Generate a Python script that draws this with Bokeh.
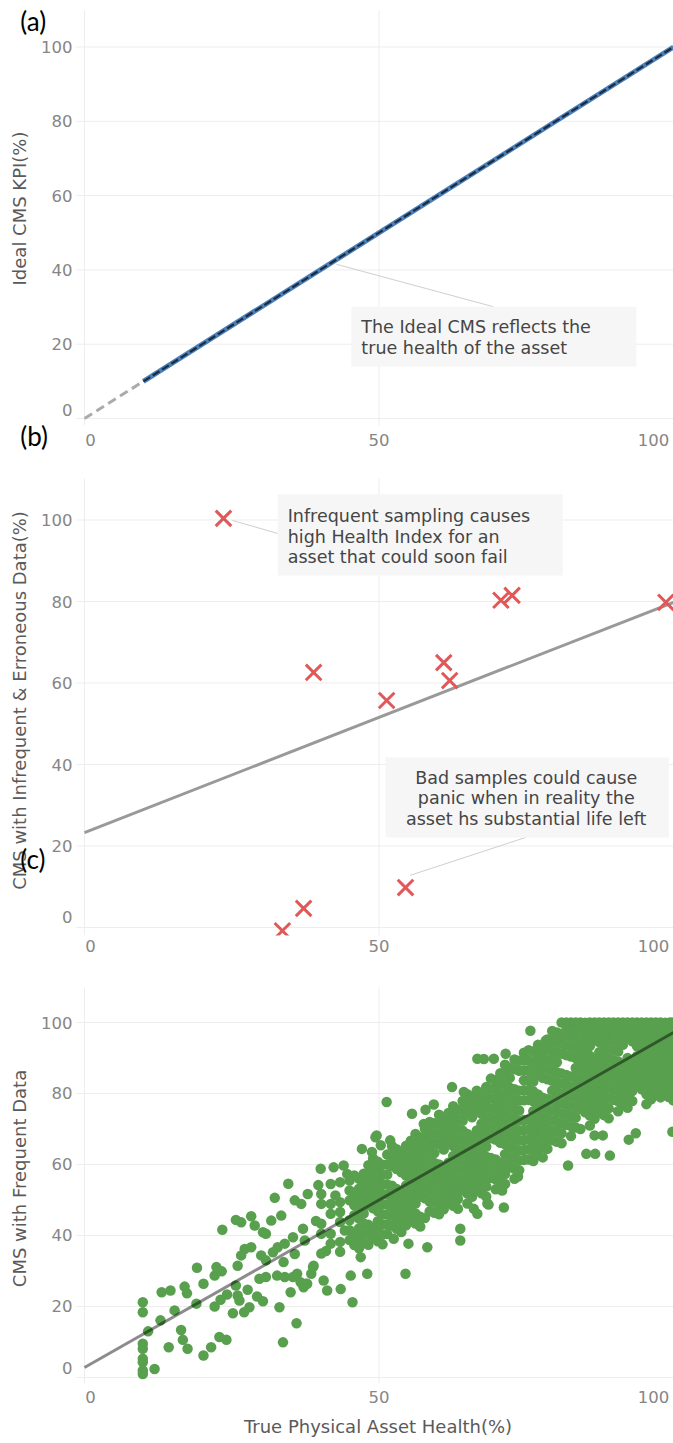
from bokeh.plotting import figure
from bokeh.layouts import column
from bokeh.models import Range1d, FixedTicker, BoxAnnotation, Label, LinearAxis
from bokeh.embed import file_html
from bokeh.resources import INLINE

# ---------------- data ----------------
x_ticks = [0, 50, 100]
y_ticks = [0, 20, 40, 60, 80, 100]

# (a) ideal CMS
ideal_x = [10, 100]
ideal_y = [10, 100]
ideal_ext_x = [0, 10]
ideal_ext_y = [0, 10]

# (b) infrequent & erroneous samples
infreq_x = [23.6, 38.9, 51.3, 61.0, 62.0, 70.7, 72.6, 98.7, 54.5, 37.2, 33.6]
infreq_y = [100.4, 62.6, 55.7, 65.0, 60.6, 80.3, 81.5, 79.8, 9.8, 4.7, -0.8]
infreq_fit_x = [0, 100]
infreq_fit_y = [23.3, 79.8]

# (c) frequent samples: sparse part (true health, CMS value)
freq_left = [
    (9.9, 21.2), (9.9, 18.4), (9.9, 9.5), (9.9, 8.1), (9.9, 5.3), (9.9, 4.3), (9.9, 2.0), (9.9, 1.0),
    (11.9, 2.4), (10.8, 13.0), (12.9, 16.1), (13.1, 24.0), (14.6, 24.5), (14.3, 8.5), (15.3, 18.9),
    (16.4, 13.4), (16.7, 10.6), (17.5, 8.1), (17.0, 25.6), (17.4, 23.7), (19.0, 20.8), (19.1, 30.9),
    (20.2, 26.4), (20.2, 6.2), (21.5, 8.5), (22.1, 20.0), (23.1, 21.9), (24.2, 23.4), (22.1, 28.7),
    (22.4, 31.1), (23.3, 29.9), (22.9, 11.4), (24.1, 10.6), (23.4, 41.6), (25.2, 18.1), (25.7, 44.4),
    (26.6, 43.7), (25.7, 25.9), (26.0, 23.1), (26.3, 21.7), (26.0, 31.5), (26.6, 34.4), (27.2, 36.2),
    (28.3, 36.7), (27.1, 18.4), (28.0, 19.8), (27.7, 24.7), (28.3, 45.4), (28.9, 42.8), (29.3, 22.8),
    (30.3, 21.5), (29.7, 27.8), (30.8, 28.3), (30.0, 34.4), (30.8, 33.0), (30.3, 40.9), (30.8, 40.5),
    (31.7, 44.2), (33.4, 45.6), (32.3, 50.6), (32.0, 35.3), (32.8, 36.7), (34.0, 37.7), (32.7, 28.7),
    (34.0, 28.3), (35.4, 28.3), (36.7, 26.8), (33.1, 19.8), (33.7, 9.9), (33.8, 32.5), (34.6, 54.6),
    (35.0, 24.0), (35.4, 39.5), (35.7, 34.8), (35.7, 49.9), (36.8, 48.9), (37.9, 51.7), (36.0, 15.3),
    (37.1, 41.9), (37.4, 38.6), (37.6, 26.4), (38.5, 29.2), (38.8, 31.1),
]
# (c) dense band, read column by column
core_col_x = [40.2, 41.8, 43.4, 45.0, 45.8, 46.6, 47.4, 48.2, 49.0, 49.8,
              50.6, 51.4, 52.2, 53.0, 53.8, 54.6, 55.4, 56.2, 57.0, 57.8, 58.6, 59.4, 60.2, 61.0,
              61.8, 62.6, 63.4, 64.2, 65.0, 65.8, 66.6, 67.4, 68.2, 69.0, 69.8, 70.6, 71.4, 72.2,
              73.0, 73.8, 74.6, 75.4, 76.2, 77.0, 77.8, 78.6, 79.4, 80.2, 81.0, 81.8, 82.6, 83.4,
              84.2, 85.0, 85.8, 86.6, 87.4, 88.2, 89.0, 89.8, 90.6, 91.4, 92.2, 93.0, 93.8, 94.6,
              95.4, 96.2, 97.0, 97.8, 98.6, 99.4, 100.0]
core_col_y = [
    [34.9, 40.5, 43.3, 48.9, 51.7],
    [37.7, 40.5, 46.1, 48.9, 54.5],
    [35.4, 38.2, 43.8, 46.6, 49.4, 55.0],
    [38.7, 41.5, 44.3, 49.9, 52.7, 55.5],
    [37.3, 40.1, 45.7, 48.5, 51.3, 56.9],
    [36.4, 39.2, 42.0, 44.8, 47.6, 50.4, 53.2, 56.0],
    [37.8, 40.6, 43.4, 46.2, 49.0, 51.8, 54.6, 57.4],
    [37.4, 40.2, 43.0, 48.6, 51.4, 54.2, 57.0, 59.8],
    [39.3, 42.1, 47.7, 50.5, 53.3, 56.1, 58.9, 61.7],
    [38.4, 41.2, 44.0, 46.8, 49.6, 52.4, 55.2, 58.0, 60.8],
    [37.5, 40.3, 43.1, 45.9, 48.7, 51.5, 54.3, 57.1, 59.9],
    [40.4, 43.2, 46.0, 48.8, 51.6, 54.4, 57.2, 60.0, 62.8],
    [42.8, 45.6, 48.4, 51.2, 54.0, 59.6, 62.4, 65.2],
    [41.9, 44.7, 47.5, 50.3, 53.1, 58.7, 61.5, 64.3],
    [41.0, 43.8, 46.6, 49.4, 52.2, 57.8, 60.6, 63.4],
    [42.9, 45.7, 48.5, 51.3, 54.1, 56.9, 59.7, 62.5, 65.3],
    [44.3, 47.1, 49.9, 52.7, 55.5, 58.3, 61.1, 63.9, 66.7],
    [43.4, 46.2, 49.0, 51.8, 54.6, 57.4, 60.2, 63.0, 65.8, 68.6],
    [42.5, 45.3, 50.9, 53.7, 56.5, 59.3, 62.1, 64.9, 67.7],
    [44.9, 50.5, 53.3, 56.1, 58.9, 61.7, 64.5, 67.3, 70.1],
    [46.8, 49.6, 52.4, 55.2, 58.0, 60.8, 63.6, 66.4, 69.2, 72.0],
    [46.4, 49.2, 52.0, 54.8, 57.6, 60.4, 63.2, 66.0, 68.8, 71.6],
    [46.0, 48.8, 51.6, 54.4, 57.2, 60.0, 65.6, 68.4, 71.2, 74.0],
    [47.4, 50.2, 53.0, 55.8, 58.6, 64.2, 67.0, 69.8, 72.6],
    [49.3, 52.1, 54.9, 57.7, 60.5, 66.1, 68.9, 71.7, 74.5],
    [48.4, 51.2, 54.0, 56.8, 59.6, 62.4, 65.2, 68.0, 70.8, 73.6, 76.4],
    [47.5, 50.3, 53.1, 55.9, 58.7, 61.5, 64.3, 67.1, 69.9, 72.7, 75.5],
    [52.7, 55.5, 58.3, 61.1, 63.9, 66.7, 69.5, 72.3, 75.1, 77.9],
    [49.0, 51.8, 54.6, 57.4, 60.2, 63.0, 65.8, 68.6, 74.2, 77.0, 79.8],
    [50.9, 53.7, 56.5, 59.3, 62.1, 64.9, 67.7, 73.3, 76.1, 78.9],
    [52.8, 55.6, 58.4, 61.2, 64.0, 66.8, 69.6, 75.2, 78.0, 80.8],
    [51.9, 54.7, 57.5, 60.3, 63.1, 65.9, 68.7, 71.5, 74.3, 77.1, 79.9],
    [51.0, 53.8, 56.6, 59.4, 62.2, 65.0, 67.8, 70.6, 73.4, 76.2, 79.0, 81.8],
    [56.2, 59.0, 61.8, 67.4, 70.2, 73.0, 75.8, 78.6, 81.4, 84.2],
    [53.0, 55.8, 58.6, 61.4, 67.0, 69.8, 72.6, 75.4, 78.2, 81.0, 83.8],
    [54.9, 57.7, 60.5, 66.1, 68.9, 71.7, 74.5, 77.3, 80.1, 82.9, 85.7],
    [54.5, 57.3, 60.1, 62.9, 65.7, 68.5, 71.3, 74.1, 76.9, 79.7, 82.5, 85.3, 88.1],
    [59.2, 62.0, 64.8, 67.6, 70.4, 73.2, 76.0, 78.8, 81.6, 84.4, 87.2],
    [56.0, 58.8, 61.6, 64.4, 67.2, 70.0, 72.8, 75.6, 78.4, 81.2, 86.8, 89.6],
    [58.4, 61.2, 64.0, 66.8, 69.6, 72.4, 75.2, 78.0, 80.8, 86.4, 89.2],
    [61.3, 64.1, 66.9, 69.7, 72.5, 78.1, 80.9, 83.7, 86.5, 89.3, 91.5],
    [61.4, 64.2, 67.0, 69.8, 72.6, 78.2, 81.0, 83.8, 86.6, 89.4, 92.2],
    [61.0, 63.8, 66.6, 69.4, 72.2, 75.0, 77.8, 80.6, 83.4, 86.2, 89.0, 91.8],
    [62.9, 65.7, 68.5, 71.3, 74.1, 76.9, 79.7, 85.3, 88.1, 90.9, 93.7],
    [62.0, 64.8, 67.6, 70.4, 73.2, 76.0, 78.8, 84.4, 87.2, 90.0, 92.8],
    [64.4, 67.2, 70.0, 72.8, 75.6, 78.4, 84.0, 86.8, 89.6, 92.4, 95.2],
    [66.8, 69.6, 72.4, 75.2, 78.0, 80.8, 83.6, 86.4, 89.2, 92.0, 94.8, 97.6],
    [66.4, 69.2, 72.0, 74.8, 77.6, 80.4, 83.2, 86.0, 88.8, 91.6, 94.4, 97.2],
    [66.0, 68.8, 71.6, 74.4, 77.2, 80.0, 82.8, 85.6, 91.2, 94.0, 96.8, 100],
    [71.2, 74.0, 76.8, 79.6, 82.4, 85.2, 90.8, 93.6, 96.4, 99.0, 100],
    [68.0, 70.8, 73.6, 76.4, 79.2, 82.0, 84.8, 90.4, 93.2, 96.0, 98.8, 100],
    [70.4, 73.2, 76.0, 78.8, 81.6, 84.4, 87.2, 90.0, 92.8, 95.6, 98.4, 100],
    [70.0, 75.6, 78.4, 81.2, 84.0, 86.8, 89.6, 92.4, 95.2, 98.0, 100],
    [74.7, 77.5, 80.3, 83.1, 85.9, 88.7, 91.5, 94.3, 97.1, 99.9],
    [71.0, 73.8, 76.6, 79.4, 82.2, 85.0, 87.8, 90.6, 93.4, 96.2, 99.0, 100],
    [72.9, 75.7, 78.5, 81.3, 84.1, 86.9, 89.7, 95.3, 98.1, 100],
    [74.8, 77.6, 80.4, 83.2, 86.0, 88.8, 91.6, 94.4, 97.2, 100],
    [73.9, 76.7, 79.5, 82.3, 85.1, 87.9, 90.7, 93.5, 96.3, 99.1, 100],
    [73.0, 75.8, 78.6, 81.4, 84.2, 87.0, 89.8, 92.6, 95.4, 98.2, 100],
    [78.2, 81.0, 83.8, 86.6, 89.4, 92.2, 95.0, 97.8, 100],
    [75.0, 77.8, 80.6, 83.4, 86.2, 89.0, 91.8, 94.6, 97.4, 100],
    [76.9, 79.7, 82.5, 85.3, 88.1, 93.7, 96.5, 99.3, 100],
    [76.0, 78.8, 81.6, 84.4, 87.2, 90.0, 95.6, 98.4, 100],
    [77.9, 80.7, 83.5, 86.3, 89.1, 94.7, 97.5, 100],
    [82.1, 84.9, 87.7, 90.5, 93.3, 96.1, 98.9, 100],
    [81.2, 84.0, 86.8, 89.6, 92.4, 95.2, 98.0, 100],
    [77.0, 79.8, 82.6, 85.4, 88.2, 91.0, 93.8, 96.6, 100],
    [78.4, 81.2, 84.0, 86.8, 89.6, 92.4, 95.2, 98.0, 100],
    [79.8, 82.6, 85.4, 88.2, 91.0, 93.8, 96.6, 99.4, 100],
    [78.9, 81.7, 84.5, 87.3, 90.1, 92.9, 95.7, 98.5, 100],
    [80.3, 83.1, 85.9, 88.7, 91.5, 94.3, 97.1, 99.9],
    [79.4, 82.2, 85.0, 87.8, 90.6, 93.4, 96.2, 99.0, 100],
    [78.0, 80.8, 83.6, 86.4, 89.2, 92.0, 94.8, 97.6, 100],
]
freq_outliers = [
    (36.1, 29.2), (37.2, 25.4), (40.6, 27.3), (41.2, 24.5), (43.5, 24.9), (45.5, 21.2), (48.0, 29.2),
    (54.5, 29.2), (52.5, 39.1), (55.0, 37.7), (58.2, 36.7), (63.8, 41.9), (63.8, 38.6), (66.7, 46.1),
    (68.4, 49.0), (46.9, 33.9), (45.2, 28.7), (38.9, 31.5), (37.8, 26.4), (66.1, 47.5), (68.6, 48.7),
    (71.2, 47.9), (70.9, 52.7), (73.6, 56.6), (71.2, 58.8), (82.1, 59.7), (85.2, 63.0), (86.7, 63.0),
    (89.2, 62.5), (86.6, 68.2), (88.0, 68.2), (92.4, 67.0), (93.6, 68.8), (99.8, 69.2), (99.2, 79.0),
    (96.1, 79.9), (96.9, 82.7), (97.8, 85.1),
    (40.1, 58.8), (42.3, 59.2), (44.0, 59.7), (47.1, 64.4), (48.8, 63.5), (50.3, 65.4), (49.4, 67.7),
    (51.9, 66.8), (49.6, 68.2), (51.3, 77.6), (55.6, 74.3), (57.9, 75.4), (59.3, 76.9), (57.6, 71.4),
    (62.4, 81.8), (64.4, 80.4), (66.7, 89.8), (69.5, 89.8), (71.5, 91.2), (67.8, 89.7), (75.7, 97.7),
    (78.3, 94.9), (80.0, 95.9),
    (39.3, 44.1), (39.7, 54.2), (41.0, 35.6), (42.6, 51.3), (44.2, 41.4), (44.6, 57.3),
]
freq_fit_x = [0, 100]
freq_fit_y = [2.8, 97.2]

# ---------------- styling ----------------
FONT = "DejaVu Sans"
TICK_COLOR = "#868686"
TITLE_COLOR = "#5a5a5a"
GRID_COLOR = "#ededed"
ANN_FILL = "#f6f6f6"
ANN_TEXT = "#454545"
LINK_COLOR = "#cfcfcf"
W = 673
X_LO, X_HI = -1.36, 100.0          # plot-area extent in x
X_START, X_END = -14.26, 100.0      # canvas extent in x


def make_fig(height, y_start, y_end, y_lo, y_hi, ylabel, zero_label_pos, x_standoff, ybounds,
             xlabel=None, xlabel_standoff=9):
    p = figure(width=W, height=height, x_range=Range1d(X_START, X_END), y_range=Range1d(y_start, y_end),
               output_backend="svg", toolbar_location=None, x_axis_location=None, y_axis_location=None,
               min_border=0, min_border_left=0, min_border_right=0, min_border_top=0, min_border_bottom=0)
    p.outline_line_color = None
    p.grid.visible = False
    p.segment(x0=X_LO, x1=X_HI, y0=y_ticks, y1=y_ticks, line_color=GRID_COLOR, line_width=1, level="underlay")
    p.segment(x0=x_ticks, x1=x_ticks, y0=y_lo, y1=y_hi, line_color=GRID_COLOR, line_width=1, level="underlay")

    xax = LinearAxis(fixed_location=y_lo, bounds=(0.9, 98.76),
                     ticker=FixedTicker(ticks=[1.0, 50, 96.6]),
                     major_label_overrides={1.0: "0", 50: "50", 96.6: "100"})
    yt = [zero_label_pos] + y_ticks[1:]
    yax = LinearAxis(fixed_location=X_LO, bounds=ybounds, ticker=FixedTicker(ticks=yt),
                     major_label_overrides={zero_label_pos: "0"})
    for ax in (xax, yax):
        ax.axis_line_color = None
        ax.major_tick_line_color = None
        ax.minor_tick_line_color = None
        ax.major_tick_out = 0
        ax.major_tick_in = 0
        ax.major_label_text_font = FONT
        ax.major_label_text_font_size = "16.5px"
        ax.major_label_text_color = TICK_COLOR
        ax.axis_label_text_font = FONT
        ax.axis_label_text_font_size = "18px"
        ax.axis_label_text_font_style = "normal"
        ax.axis_label_text_color = TITLE_COLOR
    yax.major_label_standoff = 4
    yax.axis_label_standoff = 8
    yax.axis_label = ylabel
    xax.major_label_standoff = x_standoff
    if xlabel:
        xax.axis_label = xlabel
        xax.axis_label_standoff = xlabel_standoff
    p.add_layout(xax, "below")
    p.add_layout(yax, "left")
    return p


def mask_below(p, y_start, y_lo):
    # emulate clipping of marks at the bottom of the plot area
    p.quad(left=X_START, right=X_END, bottom=y_start, top=y_lo, fill_color="white", line_color=None)


def ann_text(p, lines, x, ys, align="left", size="17.5px"):
    for t, y in zip(lines, ys):
        p.add_layout(Label(x=x, y=y, text=t, text_font=FONT, text_font_size=size,
                           text_color=ANN_TEXT, text_baseline="middle", text_align=align))


def panel_tag(p, text, x, y):
    p.add_layout(Label(x=x, y=y, text=text, text_font="Lato", text_font_size="26px",
                       text_color="black", text_baseline="middle", text_align="left"))


# ---------------- (a) ----------------
pa = make_fig(455, -9.96, 112.52, -1.88, 109.8, "Ideal CMS KPI(%)", 2.4, 9, (2.3, 110.7))
pa.line(ideal_ext_x, ideal_ext_y, line_color="#ababab", line_width=3, line_dash="9 5")
pa.line(ideal_x, ideal_y, line_color="#4a80ba", line_width=5)
pa.line(ideal_x, ideal_y, line_color="#1d2b40", line_width=2.2, line_dash="8 3")
pa.line([42.8, 69.4], [41.5, 30.1], line_color=LINK_COLOR, line_width=1)
pa.add_layout(BoxAnnotation(left=45.3, right=93.7, bottom=14.0, top=30.1,
                            fill_color=ANN_FILL, fill_alpha=1, line_color=None))
ann_text(pa, ["The Ideal CMS reflects the", "true health of the asset"], 47.0, [24.5, 19.1])
panel_tag(pa, "(a)", -10.9, 107.1)
panel_tag(pa, "(b)", -10.9, -4.6)

# ---------------- (b) ----------------
pb = make_fig(520, -11.78, 115.83, -1.96, 110.2, "CMS with Infrequent & Erroneous Data(%)", 2.5, 5,
              (2.4, 109.0))
pb.line(infreq_fit_x, infreq_fit_y, line_color="#999999", line_width=3)
pb.line([25.1, 32.8], [99.9, 96.7], line_color=LINK_COLOR, line_width=1)
pb.line([74.9, 55.3], [22.1, 12.8], line_color=LINK_COLOR, line_width=1)
pb.scatter(infreq_x, infreq_y, marker="x", size=22, line_color="#e05858", line_width=3)
mask_below(pb, -11.78, -1.96)
pb.add_layout(BoxAnnotation(left=32.8, right=81.2, bottom=86.4, top=106.3,
                            fill_color=ANN_FILL, fill_alpha=1, line_color=None))
ann_text(pb, ["Infrequent sampling causes", "high Health Index for an", "asset that could soon fail"],
         34.5, [100.9, 95.9, 91.0])
pb.add_layout(BoxAnnotation(left=51.1, right=99.2, bottom=22.1, top=41.7,
                            fill_color=ANN_FILL, fill_alpha=1, line_color=None))
ann_text(pb, ["Bad samples could cause", "panic when in reality the", "asset hs substantial life left"],
         75.0, [36.6, 31.7, 26.7], align="center")
panel_tag(pb, "(c)", -10.9, 16.9)

# ---------------- (c) ----------------
pc = make_fig(466, -18.03, 113.24, -1.69, 109.9, "CMS with Frequent Data", 2.8, 8, (2.7, 109.4),
              xlabel="True Physical Asset Health(%)", xlabel_standoff=9)
pts = list(freq_left)
for cxv, ys in zip(core_col_x, core_col_y):
    pts += [(cxv, yv) for yv in ys]
pts += freq_outliers
cx = [a for a, b in pts]
cy = [b for a, b in pts]
pc.scatter(cx, cy, marker="circle", size=10.5, fill_color="#58a04e", line_color=None)
pc.line(freq_fit_x, freq_fit_y, line_color="black", line_alpha=0.45, line_width=3)
mask_below(pc, -18.03, -1.69)

layout = column(pa, pb, pc)
open("out.html", "w").write(file_html(layout, INLINE))
